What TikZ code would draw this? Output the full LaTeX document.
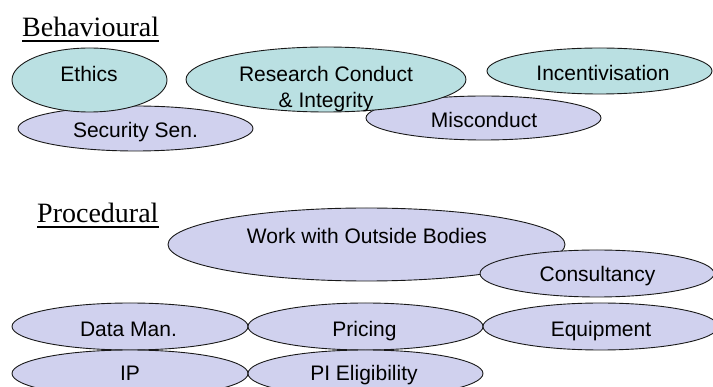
\documentclass[tikz,border=0pt]{standalone}
\usepackage{fontspec}
\setmainfont{Liberation Serif}
\setsansfont{Liberation Sans}
\usetikzlibrary{shapes.geometric}
\definecolor{tealfill}{RGB}{186,224,226}
\definecolor{lavfill}{RGB}{208,209,238}
\definecolor{edgeline}{RGB}{25,25,25}
\begin{document}
\begin{tikzpicture}[x=1pt,y=-1pt,
  blob/.style={ellipse, draw=edgeline, line width=0.9pt, inner sep=0pt, outer sep=0pt},
  tealblob/.style={blob, fill=tealfill},
  lavblob/.style={blob, fill=lavfill},
  lbl/.style={font=\sffamily\fontsize{21}{25.7}\selectfont, inner sep=0pt, anchor=base, text=black},
  heading/.style={font=\rmfamily\fontsize{28}{32}\selectfont, inner sep=0pt, anchor=base west, text=black},
  rule/.style={line width=1.1pt, draw=black}]
\useasboundingbox (0,0) rectangle (713,387);
\clip (0,0) rectangle (713,387);

% ---- Behavioural ----
\node[heading] (beh) at (22,37) {Behavioural};
\draw[rule] ([yshift=-4pt]beh.base west) -- ([yshift=-4pt]beh.base east);

\node[lavblob, minimum width=235pt, minimum height=45pt] (sec) at (135.5,128.5) {};
\node[tealblob, minimum width=155pt, minimum height=64pt] (eth) at (89.5,80) {};
\node[lavblob, minimum width=235pt, minimum height=44pt] (mis) at (483.5,118) {};
\node[tealblob, minimum width=280pt, minimum height=65pt] (rci) at (326,79.5) {};
\node[tealblob, minimum width=225pt, minimum height=46pt] (inc) at (599.5,71) {};

\node[lbl] (sec-t) at (135.5,137.7) {Security Sen.};
\node[lbl] (eth-t) at (89,82) {Ethics};
\node[lbl] (mis-t) at (484,127.3) {Misconduct};
\node[lbl] (rci-t) at (326,82) {\begin{tabular}[t]{@{}c@{}}Research Conduct\\ \& Integrity\end{tabular}};
\node[lbl] (inc-t) at (603,81) {Incentivisation};

% ---- Procedural ----
\node[heading] (pro) at (37,223) {Procedural};
\draw[rule] ([yshift=-4pt]pro.base west) -- ([yshift=-4pt]pro.base east);

\node[lavblob, minimum width=397pt, minimum height=73pt] (wob) at (366.5,244.5) {};
\node[lavblob, minimum width=234pt, minimum height=47pt] (con) at (597,273.5) {};
\node[lavblob, minimum width=236pt, minimum height=47pt] (dat) at (130,326.5) {};
\node[lavblob, minimum width=235pt, minimum height=47pt] (pri) at (365.5,326.5) {};
\node[lavblob, minimum width=235pt, minimum height=47pt] (equ) at (600.5,326.5) {};
\node[lavblob, minimum width=236pt, minimum height=47pt] (ip) at (130,373.5) {};
\node[lavblob, minimum width=235pt, minimum height=47pt] (pie) at (365.5,373.5) {};

\node[lbl] (wob-t) at (367,244) {Work with Outside Bodies};
\node[lbl] (con-t) at (597.5,281.7) {Consultancy};
\node[lbl] (dat-t) at (128.5,336.7) {Data Man.};
\node[lbl] (pri-t) at (364.5,336.7) {Pricing};
\node[lbl] (equ-t) at (601,336.7) {Equipment};
\node[lbl] (ip-t) at (130,380.7) {IP};
\node[lbl] (pie-t) at (364,380.7) {PI Eligibility};
\end{tikzpicture}
\end{document}
